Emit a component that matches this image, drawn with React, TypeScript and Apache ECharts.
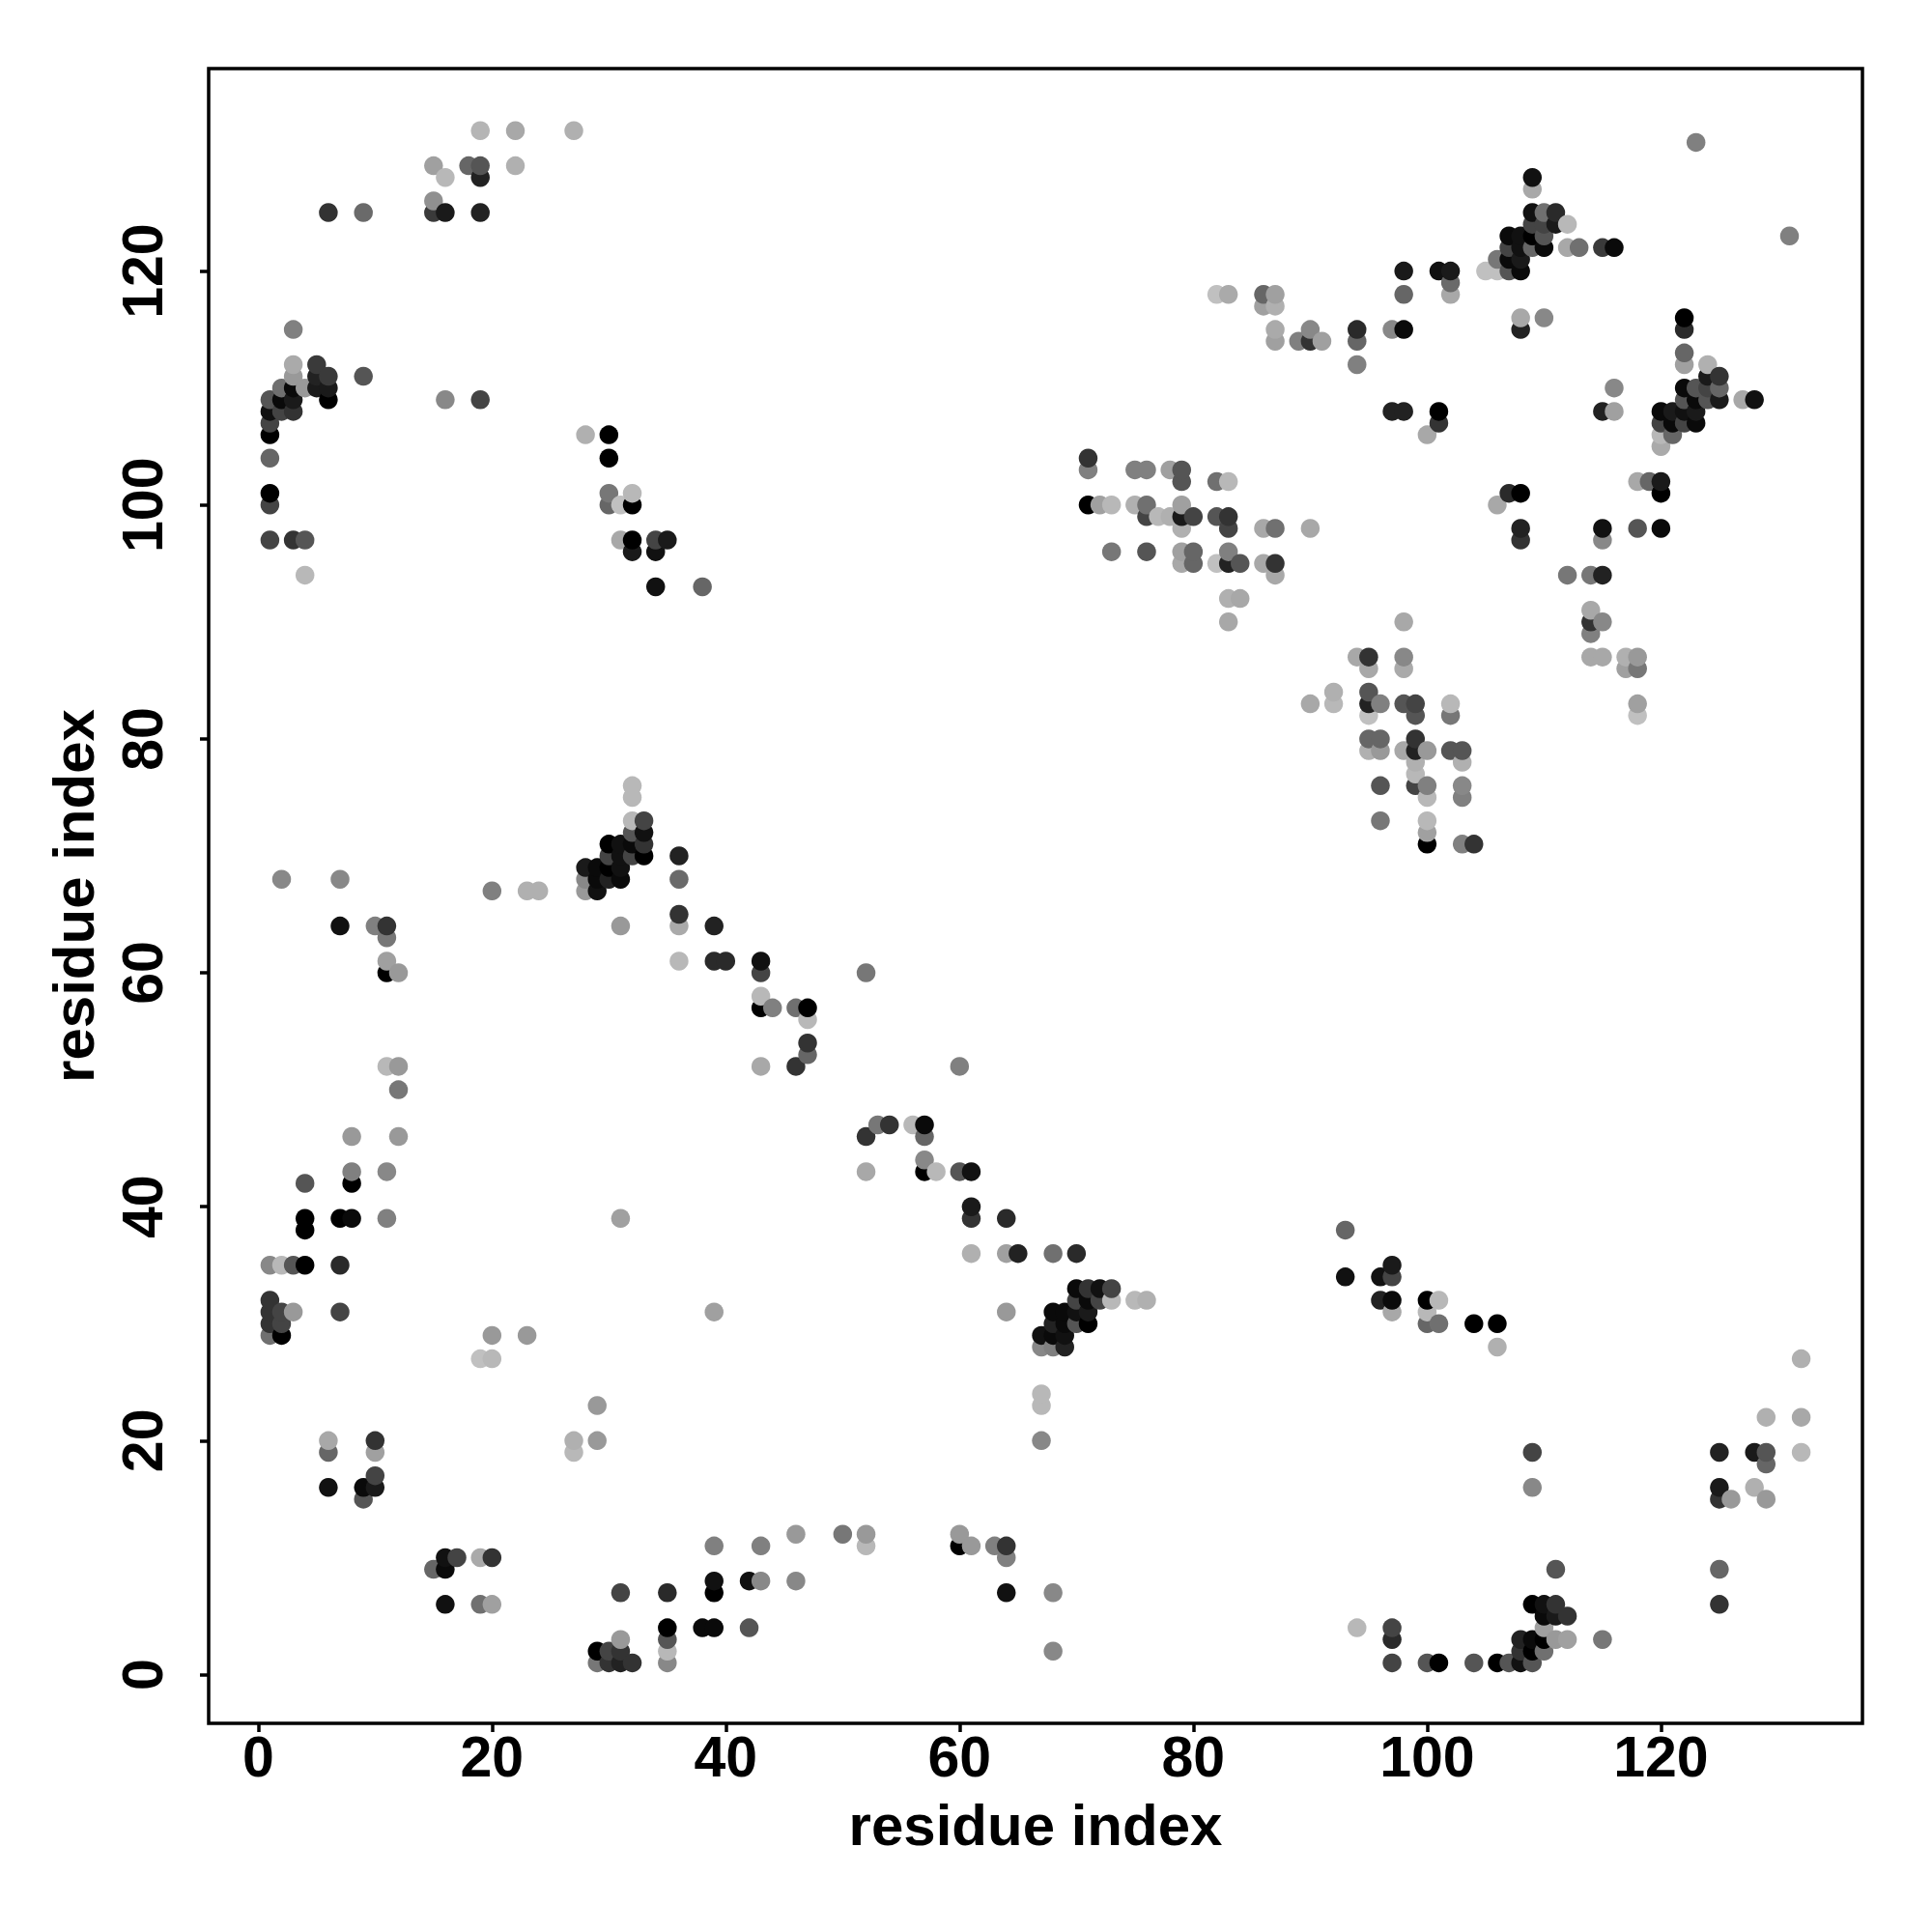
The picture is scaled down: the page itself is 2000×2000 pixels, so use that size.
import React, { useEffect, useRef } from "react";
import * as echarts from "echarts";

type Contact = [number, number, number];

const tickValues = [0, 20, 40, 60, 80, 100, 120];
const axisTitle = "residue index";

// [residue i, residue j, grey level]
const upperLeftContacts: Contact[] = [
  [19,132,0xb5],[22,132,0xa8],[27,132,0xb0],
  [15,129,0xa0],[18,129,0x66],[19,128,0x22],[19,129,0x55],[22,129,0xb0],[16,128,0xb8],
  [15,126,0x90],[6,125,0x33],[9,125,0x6a],[15,125,0x3a],[16,125,0x1a],[19,125,0x22],
  [3,115,0x80],[3,111,0x99],[3,112,0xaa],[5,111,0x22],[5,112,0x3a],[6,111,0x3a],[9,111,0x55],
  [2,110,0x70],[4,110,0x99],[3,110,0x0a],[5,110,0x1a],[6,110,0x1a],
  [1,109,0x55],[2,109,0x0a],[3,109,0x1a],[6,109,0x00],[16,109,0x88],[19,109,0x44],
  [1,108,0x11],[2,108,0x44],[3,108,0x33],[1,107,0x44],[1,106,0x00],[28,106,0xb0],[30,106,0x00],
  [1,104,0x66],[30,104,0x00],[1,100,0x44],[1,101,0x00],[30,100,0x66],[30,101,0x77],[32,100,0x00],[31,100,0xc0],[32,101,0xb8],
  [1,97,0x44],[3,97,0x33],[4,97,0x55],[31,97,0xa8],[32,96,0x1a],[32,97,0x00],[34,96,0x11],[34,97,0x44],[35,97,0x1a],
  [4,94,0xb8],[34,93,0x11],[38,93,0x66],
  [32,76,0xb8],[32,75,0xb8],[32,73,0xb8],[33,73,0x44],[32,72,0x55],[33,72,0x11],
  [30,71,0x00],[31,71,0x11],[32,71,0x0a],[33,71,0x33],[30,70,0x44],[31,70,0x11],[32,70,0x44],[33,70,0x00],
  [28,69,0x1a],[29,69,0x0a],[30,69,0x00],[31,69,0x11],[36,70,0x22],
  [28,68,0x88],[29,68,0x0a],[30,68,0x22],[31,68,0x0a],[36,68,0x6a],[28,67,0x99],[29,67,0x11],
  [2,68,0x88],[7,68,0x88],[20,67,0x80],[23,67,0xb0],[24,67,0xb0],[36,65,0x33],
];

const upperRightContacts: Contact[] = [
  [123,131,0x80],[131,123,0x80],[109,127,0xa8],[109,128,0x11],
  [109,125,0x11],[110,125,0x70],[111,125,0x2a],[109,124,0x44],[110,124,0x44],[111,124,0x1a],[112,124,0xb8],
  [107,123,0x0a],[108,123,0x11],[109,123,0x00],[110,123,0x55],
  [107,122,0x44],[108,122,0x11],[109,122,0x66],[110,122,0x0a],[112,122,0xa8],[113,122,0x70],[115,122,0x3a],[116,122,0x0a],
  [106,121,0x77],[107,121,0x0a],[108,121,0x1a],
  [98,120,0x1a],[101,120,0x11],[102,119,0x6a],[102,120,0x1a],[105,120,0xc0],[106,120,0xc0],[107,120,0x55],[108,120,0x0a],
  [82,118,0xc0],[83,118,0xaa],[86,117,0xa0],[86,118,0x66],[87,117,0xb0],[87,118,0xa0],[98,118,0x66],[102,118,0xa8],
  [108,116,0xa8],[110,116,0x88],[122,116,0x00],
  [87,115,0xaa],[90,115,0x88],[94,115,0x2a],[97,115,0x88],[98,115,0x0a],[108,115,0x22],[122,115,0x2a],
  [87,114,0xa0],[89,114,0x80],[90,114,0x33],[91,114,0xa0],[94,114,0x66],[122,113,0x66],
  [94,112,0x80],[122,112,0xa0],[124,112,0xb0],[124,111,0x1a],[125,111,0x33],
  [116,110,0x88],[122,110,0x0a],[123,110,0x55],[124,110,0x44],[125,110,0x66],
  [122,109,0x55],[123,109,0x0a],[124,109,0x55],[125,109,0x1a],[127,109,0xa8],[128,109,0x11],
  [97,108,0x22],[98,108,0x22],[101,107,0x33],[101,108,0x00],[115,108,0x22],[116,108,0xa0],
  [120,108,0x0a],[121,108,0x1a],[122,108,0x11],[123,108,0x1a],[120,107,0x44],[121,107,0x0a],[122,107,0x44],[123,107,0x0a],
  [100,106,0xa8],[120,105,0xaa],[120,106,0xb8],[121,106,0x66],
  [71,103,0x80],[71,104,0x33],[75,103,0x80],[76,103,0x80],[78,103,0xa0],[79,102,0x55],[79,103,0x55],
  [82,102,0x70],[83,102,0xb8],[118,102,0xa8],[119,102,0x66],[120,101,0x00],[120,102,0x1a],[107,101,0x2a],[108,101,0x00],
  [71,100,0x00],[72,100,0xa0],[73,100,0xb8],[75,100,0xb0],[76,99,0x44],[76,100,0x70],[79,98,0xb0],[79,99,0x1a],[79,100,0xa0],[106,100,0xa8],
  [77,99,0xb8],[78,99,0xb0],[80,99,0x44],[82,99,0x55],[83,98,0x44],[83,99,0x33],
  [86,98,0xa8],[87,98,0x70],[90,98,0xa8],[108,97,0x33],[108,98,0x22],[115,97,0x88],[115,98,0x11],[118,98,0x55],[120,98,0x0a],
  [73,96,0x77],[76,96,0x55],[79,95,0xa8],[79,96,0xa0],[80,95,0x66],[80,96,0x66],[83,95,0x22],[83,96,0x80],
  [82,95,0xc0],[84,95,0x55],[86,95,0xa8],[87,94,0xa8],[87,95,0x33],[112,94,0x77],[114,94,0x77],[115,94,0x22],
  [83,92,0xb0],[84,92,0xa8],[83,90,0xa8],[98,90,0xa8],[114,89,0x80],[114,90,0x33],[114,91,0xa8],[115,90,0x88],
  [94,87,0xa8],[95,86,0xa8],[95,87,0x33],[98,86,0xaa],[98,87,0x88],[114,87,0xa8],[115,87,0xa8],[117,86,0xa0],[117,87,0xb0],[118,86,0x77],[118,87,0x99],
  [92,83,0xb8],[92,84,0xb0],[90,83,0xa8],[95,82,0xc0],[95,83,0x22],[95,84,0x55],[96,83,0x80],[98,83,0x55],[99,82,0x55],[99,83,0x44],[102,82,0x77],[102,83,0xb8],[118,82,0xc0],[118,83,0xa0],
  [95,79,0xb0],[95,80,0x66],[96,79,0x99],[96,80,0x66],[98,79,0xa8],[99,77,0xb8],[99,78,0xb0],[99,79,0x22],[99,80,0x33],[100,79,0x99],[102,79,0x55],[103,78,0xb0],[103,79,0x55],
  [96,76,0x55],[99,76,0x44],[100,75,0xb8],[100,76,0x80],[103,75,0x80],[103,76,0x88],[96,73,0x77],
  [100,71,0x00],[100,72,0xa0],[100,73,0xb8],[103,71,0x80],[104,71,0x33],
];

const lowerLeftContacts: Contact[] = [
  [7,64,0x11],[10,64,0x80],[11,63,0x77],[11,64,0x33],[31,64,0x99],[36,64,0xaa],[39,64,0x22],
  [11,60,0x00],[11,61,0xa0],[12,60,0x99],[36,61,0xb8],[39,61,0x2a],[40,61,0x2a],[43,60,0x44],[43,61,0x11],[52,60,0x77],
  [43,57,0x00],[43,58,0xb8],[44,57,0x80],[46,57,0x70],[47,56,0xb8],[47,57,0x00],[47,53,0x66],[47,54,0x33],
  [11,52,0xb8],[12,50,0x77],[12,52,0x99],[43,52,0xa8],[46,52,0x33],[60,52,0x80],
  [53,47,0x77],[54,47,0x33],[56,47,0xb8],[57,46,0x66],[57,47,0x0a],[8,46,0x99],[12,46,0x99],[52,46,0x33],[57,44,0x88],
  [8,42,0x00],[8,43,0x80],[11,43,0x88],[52,43,0xa8],[57,43,0x00],[58,43,0xb8],[60,43,0x55],[61,43,0x11],[4,42,0x55],
  [61,39,0x33],[61,40,0x1a],[4,38,0x00],[4,39,0x00],[7,39,0x00],[8,39,0x0a],[11,39,0x80],[31,39,0xa0],[64,39,0x2a],
  [61,36,0xb0],[64,36,0xa0],[65,36,0x22],[68,36,0x70],
  [1,35,0x88],[2,35,0xb8],[3,35,0x55],[4,35,0x00],[7,35,0x2a],
  [1,29,0x70],[1,30,0x33],[1,31,0x33],[1,32,0x33],[2,29,0x00],[2,30,0x44],[2,31,0x44],[3,31,0x99],[7,31,0x44],[39,31,0xa0],[64,31,0x99],
  [20,29,0x99],[23,29,0x99],[19,27,0xc0],[20,27,0xb8],[29,23,0x99],[67,23,0xb8],[67,24,0xb8],
  [6,19,0x66],[6,20,0xa8],[10,19,0xa0],[10,20,0x33],[27,19,0xb8],[27,20,0xb0],[29,20,0x99],[67,20,0x88],
  [6,16,0x11],[9,15,0x55],[9,16,0x0a],[10,16,0x1a],[10,17,0x44],
  [46,12,0x99],[50,12,0x77],[52,11,0xb8],[52,12,0x99],[60,11,0x00],[60,12,0x99],[61,11,0x99],[63,11,0x80],[64,10,0x80],[64,11,0x33],
  [39,11,0x80],[43,11,0x80],[15,9,0x66],[16,9,0x0a],[16,10,0x11],[17,10,0x44],[19,10,0xaa],[20,10,0x33],
  [39,7,0x00],[39,8,0x11],[42,8,0x11],[43,8,0x88],[46,8,0x88],[31,7,0x44],[35,7,0x2a],[64,7,0x11],[68,7,0x88],
  [16,6,0x11],[19,6,0x70],[20,6,0xa0],[35,4,0x00],[38,4,0x0a],[39,4,0x0a],[42,4,0x55],
  [29,1,0x77],[29,2,0x00],[30,1,0x33],[30,2,0x44],[31,1,0x22],[31,2,0x33],[31,3,0x99],[32,1,0x33],
  [35,1,0x88],[35,2,0xb8],[35,3,0x55],[68,2,0x88],
];

const lowerRightContacts: Contact[] = [
  [93,38,0x66],[70,36,0x2a],[97,34,0x44],[97,35,0x1a],[93,34,0x11],[96,34,0x11],
  [67,28,0x88],[67,29,0x11],[68,28,0x80],[68,29,0x0a],[68,30,0x22],[68,31,0x0a],[69,28,0x22],[69,29,0x11],[69,30,0x0a],[69,31,0x0a],
  [70,30,0x55],[70,31,0x11],[70,32,0x44],[70,33,0x0a],[71,30,0x00],[71,31,0x1a],[71,32,0x0a],[71,33,0x33],
  [72,32,0x44],[72,33,0x11],[73,32,0xb8],[73,33,0x44],[75,32,0xb8],[76,32,0xb0],
  [96,32,0x22],[97,31,0xa8],[97,32,0x0a],[100,30,0x66],[100,31,0xb8],[100,32,0x00],[101,30,0x70],[101,32,0xb8],[104,30,0x00],[106,28,0xb0],[106,30,0x00],
  [132,27,0xb0],[129,22,0xb0],[132,22,0xa8],[109,19,0x44],[125,19,0x22],[128,19,0x1a],[129,18,0x66],[129,19,0x55],[132,19,0xb8],
  [109,16,0x88],[125,15,0x33],[125,16,0x1a],[128,16,0xb0],[126,15,0x99],[129,15,0x99],
  [111,9,0x55],[125,9,0x66],[125,6,0x33],
  [109,6,0x00],[110,4,0xa0],[110,5,0x0a],[110,6,0x11],[111,5,0x1a],[111,6,0x33],[112,5,0x33],
  [94,4,0xb8],[97,3,0x2a],[97,4,0x44],
  [108,2,0x33],[108,3,0x22],[109,2,0x00],[109,3,0x0a],[110,2,0x70],[110,3,0x00],[111,3,0x99],[112,3,0xa0],[115,3,0x77],
  [97,1,0x44],[100,1,0x55],[101,1,0x00],[104,1,0x55],[106,1,0x00],[107,1,0x55],[108,1,0x11],[109,1,0x55],
];

const contacts: Contact[] = [
  ...upperLeftContacts,
  ...upperRightContacts,
  ...lowerLeftContacts,
  ...lowerRightContacts,
].sort((a, b) => a[0] - b[0] || a[1] - b[1]);

const FONT = '"Liberation Sans", Arial, sans-serif';

export default function App() {
  const ref = useRef<HTMLDivElement>(null);
  useEffect(() => {
    document.body.style.margin = "0";
    document.body.style.background = "#fff";
    const chart = echarts.init(ref.current!, undefined, { renderer: "svg" });
    const baseAxis = {
      type: "value" as const,
      name: axisTitle,
      nameLocation: "middle" as const,
      nameTextStyle: { color: "#000", fontFamily: FONT, fontWeight: "bold" as const, fontSize: 60 },
      axisLine: { show: false, onZero: false },
      splitLine: { show: false },
      axisTick: { show: true, length: 9, customValues: tickValues, lineStyle: { color: "#000", width: 3.5 } },
    };
    chart.setOption({
      animation: false,
      backgroundColor: "#fff",
      grid: {
        show: true, left: 216, top: 71, width: 1712, height: 1713,
        borderColor: "#000", borderWidth: 3.5, backgroundColor: "#fff",
      },
      xAxis: {
        ...baseAxis,
        min: -4.24,
        max: 137.24,
        nameGap: 75,
        axisLabel: {
          customValues: tickValues, margin: 5, color: "#000", fontFamily: FONT, fontWeight: "bold", fontSize: 59,
        },
      },
      yAxis: {
        ...baseAxis,
        min: -4.17,
        max: 137.31,
        nameGap: 110,
        axisLabel: {
          customValues: tickValues, rotate: 90, margin: 68, color: "#000", fontFamily: FONT, fontWeight: "bold", fontSize: 59,
          align: "center", verticalAlign: "middle",
        },
      },
      series: [
        {
          type: "scatter",
          symbol: "circle",
          symbolSize: 19.5,
          data: contacts,
          encode: { x: 0, y: 1 },
          clip: false,
          itemStyle: {
            opacity: 1,
            color: (p: any) => {
              const g = p.value[2];
              return `rgb(${g},${g},${g})`;
            },
          },
        },
      ],
    });
    return () => chart.dispose();
  }, []);
  return <div ref={ref} style={{ width: 2000, height: 2000 }} />;
}
